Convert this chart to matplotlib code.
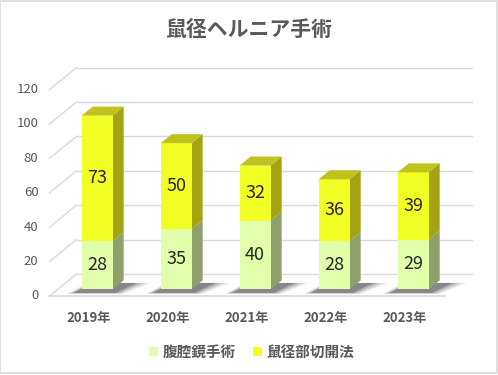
import matplotlib
matplotlib.use("Agg")
import matplotlib.pyplot as plt
import numpy as np
from matplotlib.patches import Polygon, Rectangle, Patch

plt.rcParams["font.family"] = ["Noto Sans CJK JP", "DejaVu Sans"]

# ------------ Data ------------
years = ["2019年", "2020年", "2021年", "2022年", "2023年"]
laparoscopic = [28, 35, 40, 28, 29]   # 腹腔鏡手術
open_repair = [73, 50, 32, 36, 39]    # 鼠径部切開法
yticks = [0, 20, 40, 60, 80, 100, 120]
series_names = ["腹腔鏡手術", "鼠径部切開法"]

# colours: front, side, top
green = ("#E1FFAA", "#8FA06C", "#B7CC88")
yellow = ("#F2FF24", "#A3A313", "#BFC31E")
grid_col = "#D9D9D9"
text_col = "#595959"

# ------------ Figure / fake 3D geometry ------------
fig = plt.figure(figsize=(4.98, 3.75), dpi=100)
ax = fig.add_axes([40 / 498, 75 / 375, 440 / 498, 240 / 375])
ax.set_xlim(-0.62, 4.949)
ax.set_ylim(-2.33, 137.2)
ax.axis("off")

DX, DY = 0.342, 12.8       # depth of the whole chart (x in categories, y in values)
f1, f2 = 0.3, 0.71         # bar front / back position inside the depth
w = 0.392
n = len(years)
x = np.arange(n)

# walls / gridlines
for v in yticks:
    ax.plot([-0.5, -0.5 + DX], [v, v + DY], color=grid_col, lw=1, zorder=1)
    ax.plot([-0.5 + DX, n - 0.5 + DX], [v + DY, v + DY], color=grid_col, lw=1, zorder=1)
    ax.text(-0.64, v, str(v), ha="right", va="center", fontsize=9.5, color=text_col)
ax.plot([-0.5, n - 0.5], [0, 0], color=grid_col, lw=1.2, zorder=1)

bx = x + f1 * DX
base = f1 * DY
bdx = (f2 - f1) * DX
bdy = (f2 - f1) * DY

# soft shadows on the floor
for i in range(n):
    for k, a in enumerate([0.10, 0.14, 0.2, 0.3]):
        g = (3 - k) * 0.03
        l, r = bx[i] - w / 2 - 0.1 - g, bx[i] + w / 2 + 0.04 + g
        pts = [(l, base - 2 - g * 8), (r, base - 2 - g * 8),
               (r + bdx + 0.12 + g, base + bdy - 1.5), (l + bdx + 0.12, base + bdy - 1.5)]
        ax.add_patch(Polygon(pts, closed=True, fc="#303030", ec="none", alpha=a, zorder=2))

bottoms = np.zeros(n)
for vals, (front, side, top), name in [(laparoscopic, green, series_names[0]),
                                       (open_repair, yellow, series_names[1])]:
    vals = np.array(vals, dtype=float)
    ax.bar(bx, vals, bottom=base + bottoms, width=w, color=front,
           label=name, zorder=4, linewidth=0)
    for i in range(n):
        xr = bx[i] + w / 2
        y0 = base + bottoms[i]
        y1 = y0 + vals[i]
        ax.add_patch(Polygon([(xr, y0), (xr + bdx, y0 + bdy), (xr + bdx, y1 + bdy), (xr, y1)],
                             closed=True, fc=side, ec="none", zorder=3))
        ax.text(bx[i], y0 + vals[i] / 2, f"{int(vals[i])}", ha="center", va="center",
                fontsize=13, color="#262626", zorder=6)
    bottoms += vals

# top caps
for i in range(n):
    xl, xr = bx[i] - w / 2, bx[i] + w / 2
    yt = base + bottoms[i]
    ax.add_patch(Polygon([(xl, yt), (xr, yt), (xr + bdx, yt + bdy), (xl + bdx, yt + bdy)],
                         closed=True, fc=yellow[2], ec="none", zorder=5))

for i, lab in enumerate(years):
    ax.text(x[i], -12.8, lab, ha="center", va="center", fontsize=9.5,
            fontweight="bold", color=text_col)

fig.text(0.5, 1 - 29 / 375, "鼠径ヘルニア手術", ha="center", va="center",
         fontsize=15, fontweight="bold", color=text_col)

handles = [Patch(fc=green[0], ec="none"), Patch(fc=yellow[0], ec="none")]
fig.legend(handles, series_names, loc="center", bbox_to_anchor=(0.505, 1 - 352 / 375),
           ncol=2, frameon=False, handlelength=0.6, handleheight=0.6, handletextpad=0.3,
           columnspacing=1.2, prop={"size": 10.5, "weight": "bold"}, labelcolor=text_col)

fig.patches.append(Rectangle((0.001, 0.006), 0.996, 0.992, transform=fig.transFigure,
                             fill=False, ec=grid_col, lw=1.2))

fig.savefig("out.png", dpi=100, facecolor="white")
